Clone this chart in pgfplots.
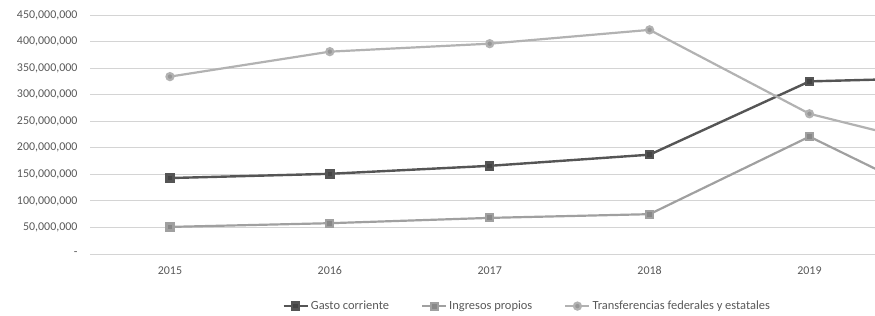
\documentclass[border=0pt]{standalone}
\usepackage{pgfplots}
\pgfplotsset{compat=1.18}
\usepackage{fontspec}
\setmainfont{Carlito}
\definecolor{tickc}{HTML}{595959}
\definecolor{gastoc}{HTML}{555555}
\definecolor{ingc}{HTML}{A0A0A0}
\definecolor{trac}{HTML}{B2B2B2}
\definecolor{gridc}{HTML}{D4D4D4}
\begin{document}
\begin{tikzpicture}[x=1bp,y=1bp]
\useasboundingbox (0,0) rectangle (875,315);
\begin{axis}[
  at={(90bp,61bp)}, anchor=south west,
  scale only axis,
  width=785bp, height=239bp,
  xmin=2014.5, xmax=2019.41,
  ymin=0, ymax=450000000,
  scaled y ticks=false,
  xtick={2015,2016,2017,2018,2019},
  xticklabels={2015,2016,2017,2018,2019},
  ytick={0,50000000,100000000,150000000,200000000,250000000,300000000,350000000,400000000,450000000},
  yticklabels={{-},{50,000,000},{100,000,000},{150,000,000},{200,000,000},{250,000,000},{300,000,000},{350,000,000},{400,000,000},{450,000,000}},
  ymajorgrids,
  grid style={gridc, line width=0.8bp},
  axis line style={draw=none},
  major tick length=0pt,
  tick label style={font=\fontsize{12}{14}\selectfont, text=tickc},
  yticklabel style={xshift=-9bp},
  xticklabel style={yshift=-9bp},
  clip=true,
  legend columns=3,
  legend style={at={(rel axis cs:0.245,-0.218)}, anchor=west, draw=none, fill=none,
    inner sep=0pt, font=\fontsize{12.5}{14}\selectfont, text=tickc,
    /tikz/every even column/.append style={column sep=30bp}},
  legend cell align=left,
  legend image code/.code={\draw[mark repeat=2,mark phase=2] plot coordinates {(0bp,0bp) (12bp,0bp) (24bp,0bp)};},
]
\addplot[gastoc, line width=2.4bp, mark=square*, mark size=3.5bp, mark options={fill=gastoc!80!black, draw=gastoc}]
  coordinates {(2015,143000000) (2016,151000000) (2017,166000000) (2018,187000000) (2019,325000000) (2020,333000000)};
\addlegendentry{Gasto corriente}
\addplot[ingc, line width=2.2bp, mark=square*, mark size=3.5bp, mark options={fill=ingc!85!black, draw=ingc}]
  coordinates {(2015,51000000) (2016,58000000) (2017,68000000) (2018,75000000) (2019,221000000) (2020,74000000)};
\addlegendentry{Ingresos propios}
\addplot[trac, line width=2.2bp, mark=*, mark size=3.5bp, mark options={fill=trac!85!black, draw=trac}]
  coordinates {(2015,334000000) (2016,381000000) (2017,396000000) (2018,422000000) (2019,264000000) (2020,189000000)};
\addlegendentry{Transferencias federales y estatales}
\end{axis}
\end{tikzpicture}
\end{document}
